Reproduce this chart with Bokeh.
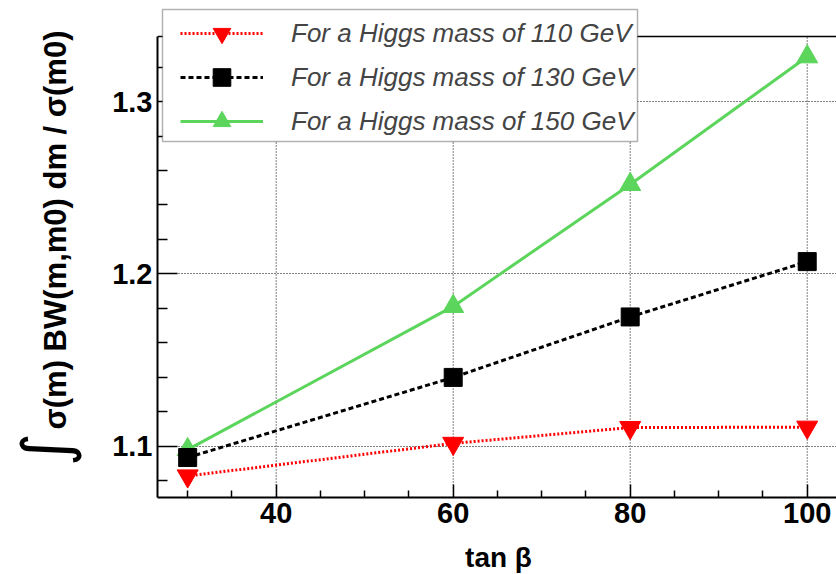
import math
from bokeh.plotting import figure
from bokeh.layouts import row, column
from bokeh.models import (Range1d, LinearAxis, FixedTicker, Legend, LegendItem,
                          Label, BoxAnnotation, Span)
from bokeh.embed import file_html
from bokeh.resources import INLINE

# ---- data ----
tanb = [30, 60, 80, 100]
m110 = [1.0827, 1.1016, 1.1108, 1.1110]
m130 = [1.0934, 1.1399, 1.1750, 1.2071]
m150 = [1.0980, 1.1811, 1.2519, 1.3260]
series_labels = ["For a Higgs mass of 110 GeV",
                 "For a Higgs mass of 130 GeV",
                 "For a Higgs mass of 150 GeV"]
x_major = [40, 60, 80, 100]
x_minor = [30, 35, 45, 50, 55, 65, 70, 75, 85, 90, 95]
y_major = [1.1, 1.2, 1.3]
y_minor = [1.08, 1.12, 1.14, 1.16, 1.18, 1.22, 1.24, 1.26, 1.28, 1.32]
x_title = "tan β"
y_title = "σ(m) BW(m,m0) dm / σ(m0)"

# axis extents of the plotted box
X_LO, X_HI = 26.59, 103.31
Y_LO, Y_TOP = 1.0702, 1.3378
Y_HI = 1.35865  # range end (above the box, room for legend)

RED = "#ff0000"
BLACK = "#000000"
GREEN = "#5bd55b"
FONT = "Liberation Sans"


def blank(fig):
    fig.outline_line_color = None
    fig.grid.visible = False
    return fig


# ---------- left strip with the y title ----------
pt = blank(figure(width=100, height=538, output_backend="svg", toolbar_location=None,
                  x_range=Range1d(0, 100), y_range=Range1d(0, 497),
                  min_border_left=0, min_border_right=0, min_border_top=0, min_border_bottom=41,
                  x_axis_location=None, y_axis_location=None))
pt.add_layout(Label(x=55, y=467, x_units="screen", y_units="screen", text=y_title,
                    angle=math.pi / 2, text_align="right", text_baseline="alphabetic",
                    text_font=FONT, text_font_style="bold", text_font_size="31px",
                    text_color="black"))
pt.add_layout(Label(x=45, y=48, x_units="screen", y_units="screen", text="∫",
                    angle=math.pi / 2, text_align="center", text_baseline="middle",
                    text_font="DejaVu Sans", text_font_size="64px", text_color="black"))

# ---------- main plot ----------
p = figure(width=736, height=538, output_backend="svg", toolbar_location=None,
           x_range=Range1d(X_LO, X_HI), y_range=Range1d(Y_LO, Y_HI),
           min_border_left=57, min_border_right=0, min_border_top=0, min_border_bottom=41,
           x_axis_location=None, y_axis_location=None)
p.outline_line_color = None
p.background_fill_color = "white"
p.border_fill_color = "white"

xa = LinearAxis(ticker=FixedTicker(ticks=x_major, minor_ticks=x_minor))
ya = LinearAxis(ticker=FixedTicker(ticks=y_major, minor_ticks=y_minor), bounds=(Y_LO, Y_TOP))
for ax in (xa, ya):
    ax.axis_line_width = 2
    ax.major_tick_line_width = 1.5
    ax.minor_tick_line_width = 1.5
    ax.major_tick_out = 0
    ax.minor_tick_out = 0
    ax.major_label_text_font = FONT
    ax.major_label_text_font_style = "bold"
    ax.major_label_text_font_size = "29px"
    ax.major_label_text_color = "black"
xa.major_tick_in = 13
xa.minor_tick_in = 7
xa.major_label_standoff = 5
ya.major_tick_in = 20
ya.minor_tick_in = 10
ya.major_label_standoff = 5
p.add_layout(xa, "below")
p.add_layout(ya, "left")

# top edge of the box
p.add_layout(Span(location=Y_TOP, dimension="width", line_color="black", line_width=1.5))

# grid: horizontal via Grid, vertical as dotted segments limited to the box
p.xgrid.visible = False
p.ygrid.ticker = FixedTicker(ticks=y_major)
p.ygrid.grid_line_color = "black"
p.ygrid.grid_line_dash = "1 2"
p.ygrid.grid_line_width = 1
p.segment(x0=x_major, y0=[Y_LO] * len(x_major), x1=x_major, y1=[Y_TOP] * len(x_major),
          line_color="black", line_dash="1 2", line_width=1, level="underlay")

# series (draw order: green, red, black)
g_line = p.line(tanb, m150, line_color=GREEN, line_width=3)
g_pts = p.scatter(tanb, m150, marker="triangle", size=21, fill_color=GREEN, line_color=GREEN)
r_line = p.line(tanb, m110, line_color=RED, line_width=3, line_dash="2 2")
r_pts = p.scatter(tanb, m110, marker="inverted_triangle", size=21, fill_color=RED, line_color=RED)
k_line = p.line(tanb, m130, line_color=BLACK, line_width=3, line_dash="5 3")
k_pts = p.scatter(tanb, m130, marker="square", size=18, fill_color=BLACK, line_color=BLACK)

# legend box + legend
box = BoxAnnotation(left=5, right=480, top=488, bottom=356,
                    left_units="screen", right_units="screen",
                    top_units="screen", bottom_units="screen",
                    fill_color="white", fill_alpha=1.0, line_color="black", line_width=1.5)
p.add_layout(box)

legend = Legend(items=[LegendItem(label=series_labels[0], renderers=[r_line, r_pts]),
                       LegendItem(label=series_labels[1], renderers=[k_line, k_pts]),
                       LegendItem(label=series_labels[2], renderers=[g_line, g_pts])],
                location=(23, 354), padding=0, margin=0, spacing=0,
                glyph_width=83, glyph_height=44, label_standoff=28,
                label_text_font=FONT, label_text_font_style="italic",
                label_text_font_size="26px",
                border_line_color=None, background_fill_alpha=0)
p.add_layout(legend)

# ---------- bottom strip with the x title ----------
pb = blank(figure(width=836, height=36, output_backend="svg", toolbar_location=None,
                  x_range=Range1d(0, 679), y_range=Range1d(0, 36),
                  min_border_left=157, min_border_right=0, min_border_top=0, min_border_bottom=0,
                  x_axis_location=None, y_axis_location=None))
pb.add_layout(Label(x=341, y=17, x_units="screen", y_units="screen", text=x_title,
                    text_align="center", text_baseline="alphabetic",
                    text_font=FONT, text_font_style="bold", text_font_size="28px",
                    text_color="black"))

layout = column(row(pt, p, spacing=0), pb, spacing=0)
open("out.html", "w").write(file_html(layout, INLINE))
